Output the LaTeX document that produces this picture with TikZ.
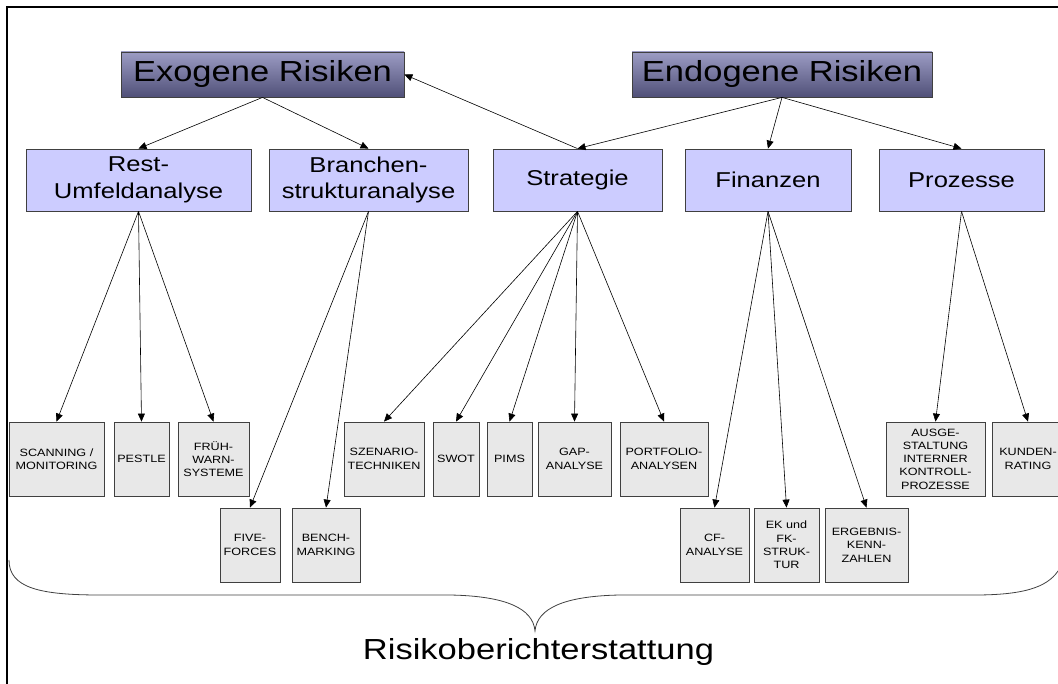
\documentclass[tikz,border=0pt]{standalone}
\usepackage{fontspec}
\setmainfont{Liberation Sans}[FakeStretch=1.19]
\usetikzlibrary{arrows.meta}

\definecolor{headtop}{HTML}{9C9CC4}
\definecolor{headmid}{HTML}{C8C8F0}
\definecolor{headbot}{HTML}{505078}
\definecolor{areablue}{HTML}{CCCCFF}
\definecolor{methodgray}{HTML}{E8E8E8}
\definecolor{rimgray}{HTML}{404040}

\tikzset{
  riskhead/.style={draw=rimgray, line width=0.8pt, top color=headtop, middle color=headmid, bottom color=headbot,
    inner sep=0pt, minimum height=45pt, font=\fontsize{29}{34}\selectfont},
  riskarea/.style={draw=rimgray, line width=0.8pt, fill=areablue, align=center, inner sep=0pt,
    minimum height=62pt, font=\fontsize{21.5}{26.7}\selectfont},
  riskmethod/.style={draw=rimgray, line width=0.8pt, fill=methodgray, align=center, inner sep=0pt,
    minimum height=74pt, font=\fontsize{10.6}{13.3}\selectfont},
  risklink/.style={line width=0.6pt, -{Triangle[length=8pt,width=7pt]}}
}

\begin{document}
\begin{tikzpicture}[x=1pt,y=-1pt]
\useasboundingbox (0,0) rectangle (1058,684);

% frame
\draw[line width=2.5pt] (7,684) -- (7,7) -- (1058,7);

% risk groups
\node[riskhead, minimum width=283pt] (exo) at (262.5,74.5) {Exogene Risiken};
\node[riskhead, minimum width=300pt] (endo) at (782,74.5) {Endogene Risiken};

\node[riskarea, minimum width=225pt] (rest) at (138.5,180) {Rest-\\Umfeldanalyse};
\node[riskarea, minimum width=199pt] (branche) at (368.5,180) {Branchen-\\strukturanalyse};
\node[riskarea, minimum width=169pt] (strat) at (577.5,180) {Strategie};
\node[riskarea, minimum width=166pt] (fin) at (768,180) {Finanzen};
\node[riskarea, minimum width=165pt] (proz) at (961.5,180) {Prozesse};

% methods, upper row
\node[riskmethod, minimum width=95pt] (scan) at (56.5,459) {SCANNING /\\MONITORING};
\node[riskmethod, minimum width=55pt] (pestle) at (141.5,459) {PESTLE};
\node[riskmethod, minimum width=71pt] (frueh) at (213.5,459) {FRÜH-\\WARN-\\SYSTEME};
\node[riskmethod, minimum width=80pt] (szen) at (384,459) {SZENARIO-\\TECHNIKEN};
\node[riskmethod, minimum width=46pt] (swot) at (456,459) {SWOT};
\node[riskmethod, minimum width=45pt] (pims) at (509.5,459) {PIMS};
\node[riskmethod, minimum width=73pt] (gap) at (574.5,459) {GAP-\\ANALYSE};
\node[riskmethod, minimum width=88pt] (portf) at (664,459) {PORTFOLIO-\\ANALYSEN};
\node[riskmethod, minimum width=99pt] (ausge) at (935.5,459) {AUSGE-\\STALTUNG\\INTERNER\\KONTROLL-\\PROZESSE};
\node[riskmethod, minimum width=72pt] (kunden) at (1028,459) {KUNDEN-\\RATING};

% methods, lower row
\node[riskmethod, minimum width=60pt] (five) at (250,545) {FIVE-\\FORCES};
\node[riskmethod, minimum width=68pt] (bench) at (326,545) {BENCH-\\MARKING};
\node[riskmethod, minimum width=69pt] (cf) at (714.5,545) {CF-\\ANALYSE};
\node[riskmethod, minimum width=65pt] (ek) at (786.5,545) {EK und\\FK-\\STRUK-\\TUR};
\node[riskmethod, minimum width=83pt] (erg) at (866.5,545) {ERGEBNIS-\\KENN-\\ZAHLEN};

% links
\foreach \a in {rest,branche}
  \draw[risklink] (exo.south) -- (\a.north);
\foreach \a in {strat,fin,proz}
  \draw[risklink] (endo.south) -- (\a.north);
\draw[risklink] (strat.north) -- (exo.east);

\foreach \m in {scan,pestle,frueh}
  \draw[risklink] (rest.south) -- (\m.north);
\foreach \m in {five,bench}
  \draw[risklink] (branche.south) -- (\m.north);
\foreach \m in {szen,swot,pims,gap,portf}
  \draw[risklink] (strat.south) -- (\m.north);
\foreach \m in {cf,ek,erg}
  \draw[risklink] (fin.south) -- (\m.north);
\foreach \m in {ausge,kunden}
  \draw[risklink] (proz.south) -- (\m.north);

% brace
\draw[line width=0.8pt, rimgray] (9,560) .. controls (9,588) and (40,595) .. (100,595) -- (450,595)
  .. controls (505,596) and (533,608) .. (535,631)
  .. controls (537,608) and (565,596) .. (620,595) -- (975,595)
  .. controls (1030,595) and (1050,585) .. (1060,568);
\node[font=\fontsize{29}{34}\selectfont] (report) at (538.5,652) {Risikoberichterstattung};

\end{tikzpicture}
\end{document}
